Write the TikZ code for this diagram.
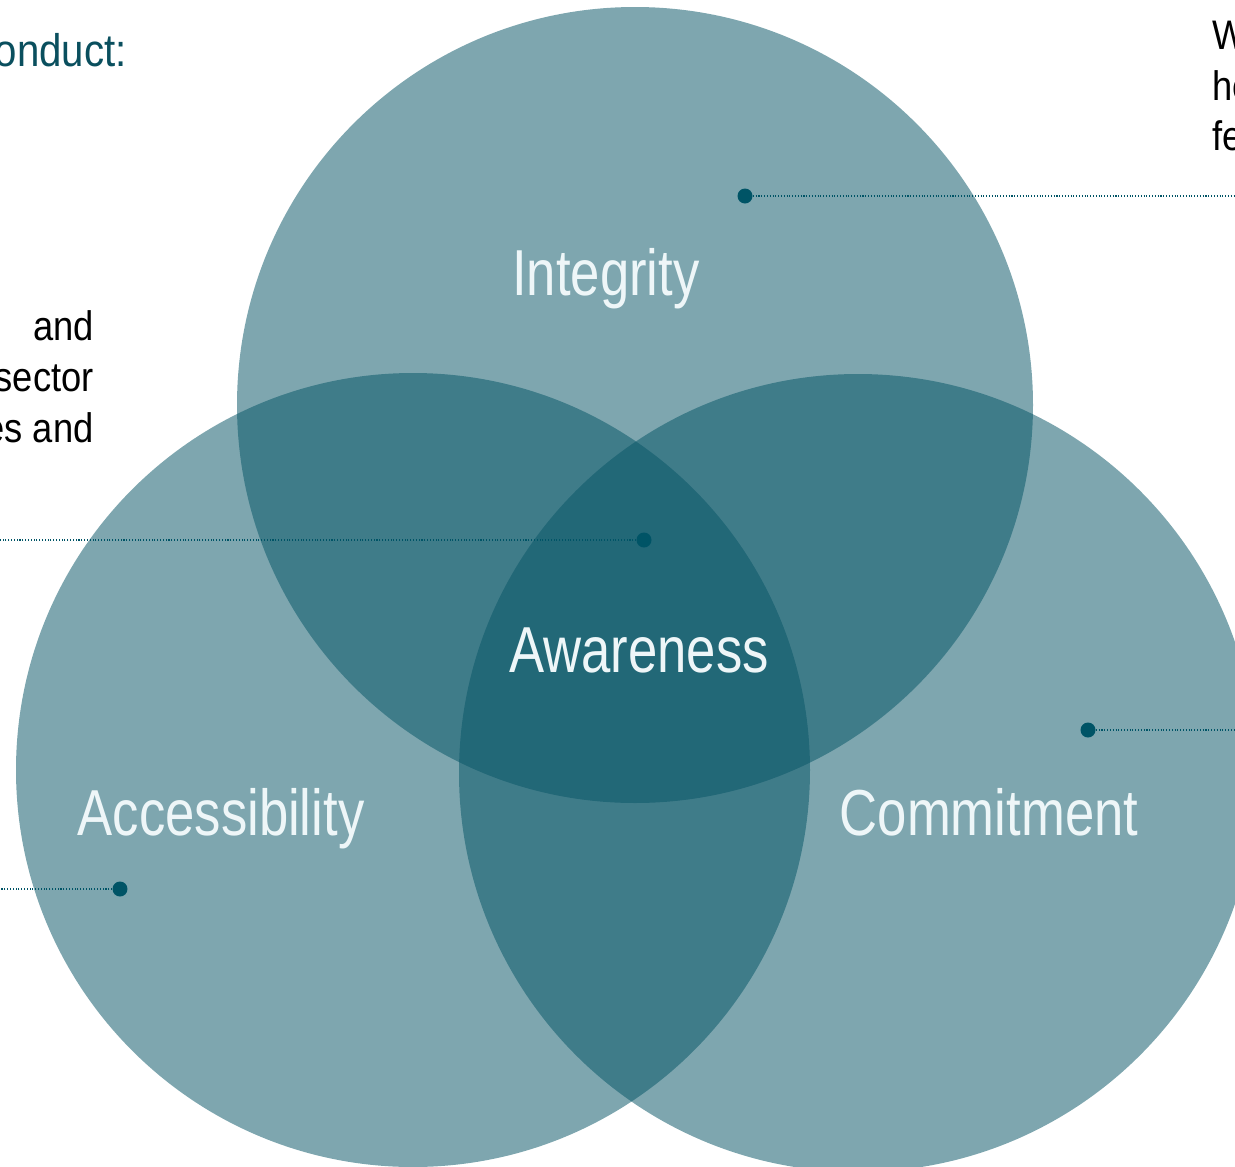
\documentclass[tikz,border=0pt]{standalone}
\usepackage{fontspec}
\setmainfont[FakeStretch=0.88]{Liberation Sans}
\newfontfamily\labelfont[FakeStretch=0.81]{Liberation Sans}
\definecolor{vennteal}{RGB}{7,85,102}
\definecolor{dotteal}{RGB}{0,84,102}
\definecolor{headteal}{RGB}{10,79,94}
\definecolor{labelwhite}{RGB}{238,246,248}
\tikzset{
  venn/.style={fill=vennteal, fill opacity=0.52, draw=none},
  vennlabel/.style={anchor=base, text=labelwhite, font=\labelfont\fontsize{37}{40}\selectfont, inner sep=0pt},
  sidetext/.style={font=\fontsize{23.5}{29}\selectfont, inner sep=0pt},
  dot/.style={circle, fill=dotteal, minimum size=0.3cm, inner sep=0pt},
  leader/.style={draw=dotteal, densely dotted, line width=0.6pt}
}
\begin{document}
\begin{tikzpicture}[x=0.02cm, y=-0.02cm]
\useasboundingbox (0,0) rectangle (1235,1167);
\clip (0,0) rectangle (1235,1167);
% circles
\fill[venn] (635,405) circle (398);
\fill[venn] (413,770) circle (397);
\fill[venn] (858,773) circle (399);
% labels
\node at (606,295) [vennlabel] (integrity) {Integrity};
\node at (639,672) [vennlabel] (awareness) {Awareness};
\node at (221,835) [vennlabel] (access) {Accessibility};
\node at (989,835) [vennlabel] (commit) {Commitment};
% side texts
\node at (127,66) [sidetext, anchor=base east, text=headteal, font=\fontsize{26}{29}\selectfont] (conduct) {onduct:};
\node at (94,340) [sidetext, anchor=base east] (leftA) {and};
\node at (94,391) [sidetext, anchor=base east] (leftB) {sector};
\node at (94,442) [sidetext, anchor=base east] (leftC) {es and};
\node at (1212,49) [sidetext, anchor=base west] (rightA) {W};
\node at (1212,100) [sidetext, anchor=base west] (rightB) {he};
\node at (1212,150) [sidetext, anchor=base west] (rightC) {fe};
% dots and leaders
\node at (745,196) [dot] (dInt) {};
\node at (644,540) [dot] (dAw) {};
\node at (1088,730) [dot] (dCom) {};
\node at (120,889) [dot] (dAcc) {};
\coordinate (eInt) at (1240,196);
\coordinate (eAw) at (-5,540);
\coordinate (eCom) at (1240,730);
\coordinate (eAcc) at (-5,889);
\draw[leader] (dInt) -- (eInt);
\draw[leader] (dAw) -- (eAw);
\draw[leader] (dCom) -- (eCom);
\draw[leader] (dAcc) -- (eAcc);
\end{tikzpicture}
\end{document}
